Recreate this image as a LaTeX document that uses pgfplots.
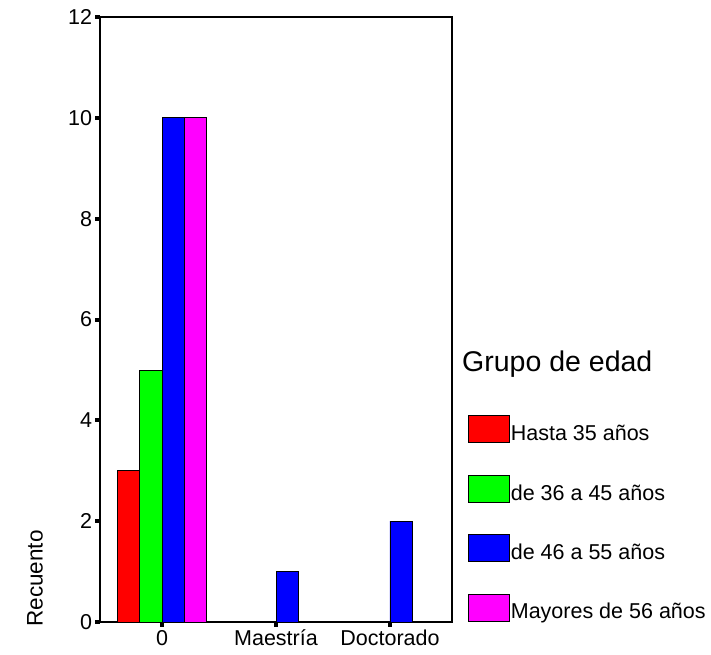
\documentclass[border=0pt]{standalone}
\usepackage{pgfplots}
\pgfplotsset{compat=1.18}
\usepackage{fontspec}
\setmainfont{Liberation Sans}

\definecolor{cRed}{RGB}{255,0,0}
\definecolor{cGreen}{RGB}{0,255,0}
\definecolor{cBlue}{RGB}{0,0,255}
\definecolor{cMag}{RGB}{255,0,255}

\begin{document}
\begin{tikzpicture}
  \begin{axis}[
    name=ax,
    scale only axis,
    width=352pt, height=605pt,
    ybar=0pt, bar width=22.4pt,
    xmin=-0.544, xmax=2.544,
    ymin=0, ymax=12,
    clip=false,
    xtick={0,1,2}, xticklabels={0,Maestría,Doctorado},
    ytick={0,2,...,12},
    tick align=outside,
    xtick pos=bottom, ytick pos=left,
    major tick length=4.5pt,
    tick style={line width=4pt, black},
    axis line style={line width=1.3pt},
    tick label style={font=\fontsize{21.5}{24}\selectfont},
    /pgf/number format/assume math mode=true,
    ylabel={Recuento},
    ylabel style={at={(axis description cs:-0.185,-0.008)}, anchor=west,
      inner sep=0pt, font=\fontsize{22.5}{25}\selectfont},
    legend style={at={(axis description cs:1.045,0.342)}, anchor=north west,
      draw=none, fill=none, inner sep=0pt, row sep=31.5pt,
      nodes={inner sep=1pt},
      font=\fontsize{21.5}{24}\selectfont},
    legend cell align=left,
    legend image code/.code={\draw[#1,draw=black,line width=0.8pt] (0pt,-9pt) rectangle (41pt,18pt);},
    every axis plot/.append style={draw=black, line width=0.8pt},
  ]
    \addplot[fill=cRed] coordinates {(0,3)};
    \addplot[fill=cGreen] coordinates {(0,5)};
    \addplot[fill=cBlue] coordinates {(0,10) (1,1) (2,2)};
    \addplot[fill=cMag] coordinates {(0,10)};
    \legend{Hasta 35 años, de 36 a 45 años, de 46 a 55 años, Mayores de 56 años}
  \end{axis}
  \node[anchor=west, inner sep=0pt, font=\fontsize{28.5}{32}\selectfont]
    at ([xshift=10pt,yshift=258pt]ax.south east) {Grupo de edad};
  \path ([xshift=-100pt,yshift=-32pt]ax.south west) rectangle ([xshift=259pt,yshift=17pt]ax.north east);
\end{tikzpicture}
\end{document}
